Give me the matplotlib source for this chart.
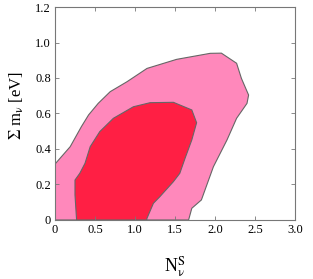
import matplotlib
matplotlib.use("Agg")
import matplotlib.pyplot as plt
from matplotlib.ticker import FuncFormatter

plt.rcParams['font.family'] = ['Liberation Serif', 'DejaVu Serif']
plt.rcParams['mathtext.fontset'] = 'stix'

# 95% region (outer)
outer_x = [0.0, 0.0, 0.19, 0.33, 0.42, 0.54, 0.69, 0.90, 1.15, 1.52, 1.94, 2.08,
           2.27, 2.33, 2.42, 2.40, 2.27, 2.15, 1.98, 1.83, 1.71, 1.67]
outer_y = [0.0, 0.315, 0.413, 0.526, 0.592, 0.657, 0.723, 0.779, 0.854, 0.905, 0.939, 0.94,
           0.883, 0.798, 0.704, 0.657, 0.573, 0.451, 0.30, 0.113, 0.066, 0.0]

# 68% region (inner)
inner_x = [0.27, 0.25, 0.25, 0.31, 0.375, 0.44, 0.56, 0.73, 0.98, 1.19, 1.48, 1.71,
           1.77, 1.71, 1.625, 1.56, 1.48, 1.31, 1.23, 1.15, 1.146]
inner_y = [0.0, 0.141, 0.225, 0.263, 0.319, 0.413, 0.498, 0.573, 0.638, 0.661, 0.663, 0.62,
           0.548, 0.451, 0.347, 0.263, 0.216, 0.131, 0.094, 0.01, 0.0]

x_ticks = [0, 0.5, 1.0, 1.5, 2.0, 2.5, 3.0]
y_ticks = [0, 0.2, 0.4, 0.6, 0.8, 1.0, 1.2]

fig = plt.figure(figsize=(3.13, 2.79), dpi=100)
ax = fig.add_axes([0.1757, 0.2115, 0.7668, 0.7634])

ax.fill(outer_x, outer_y, facecolor='#FF88BB', edgecolor='#666666', linewidth=0.8)
ax.fill(inner_x, inner_y, facecolor='#FF1F44', edgecolor='#666666', linewidth=0.8)

ax.set_xlim(0, 3.0)
ax.set_ylim(0, 1.2)
ax.set_xticks(x_ticks)
ax.set_yticks(y_ticks)
fmt = FuncFormatter(lambda v, p: '0' if abs(v) < 1e-9 else '%.1f' % v)
ax.xaxis.set_major_formatter(fmt)
ax.yaxis.set_major_formatter(fmt)
ax.tick_params(direction='in', length=3, width=0.6, color='#777777',
               top=True, right=True, labelsize=9, pad=3)
for s in ax.spines.values():
    s.set_color('#777777')
    s.set_linewidth(0.8)

ax.set_xlabel(r'N$_{\mathrm{\nu}}^{\mathrm{S}}$', fontsize=13)
ax.xaxis.set_label_coords(0.5, -0.16)
ax.set_ylabel(r'$\Sigma$ m$_{\mathrm{\nu}}$ [eV]', fontsize=12, va='center')
ax.yaxis.set_label_coords(-0.16, 0.54)

fig.savefig('out.png', dpi=100)
